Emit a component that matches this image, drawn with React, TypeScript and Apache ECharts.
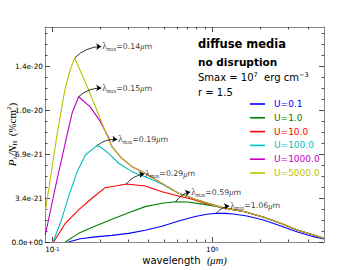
import React, { useEffect, useRef } from 'react';
import * as echarts from 'echarts';

// ---- data (values in units of 1e-21 %cm^2) ----
const seriesNames = ['U=0.1', 'U=1.0', 'U=10.0', 'U=100.0', 'U=1000.0', 'U=5000.0'];
const seriesColors = ['#0000ff', '#008000', '#ff0000', '#00bfbf', '#bf00bf', '#bfbf00'];

const u01: [number, number][] = [
  [0.126, 0], [0.15, 0.25], [0.186, 0.4], [0.236, 0.52], [0.3, 0.68], [0.381, 0.92], [0.485, 1.24],
  [0.616, 1.65], [0.783, 2.0], [0.927, 2.18], [1.06, 2.26], [1.2, 2.25], [1.36, 2.2], [1.65, 2.05],
  [2.09, 1.73], [2.66, 1.28], [3.38, 0.81], [4.3, 0.42], [5.0, 0.24],
];
const u1: [number, number][] = [
  [0.1206, 0], [0.146, 0.68], [0.186, 1.26], [0.236, 1.78], [0.3, 2.3], [0.381, 2.78], [0.485, 3.04],
  [0.59, 3.16], [0.7, 3.14], [0.85, 3.0], [1.0, 2.85], [1.2, 2.66], [1.6, 2.38], [2.1, 1.95],
  [2.7, 1.45], [3.4, 0.95], [4.3, 0.55], [5.0, 0.29],
];
const u10: [number, number][] = [
  [0.102, 0], [0.1206, 1.47], [0.146, 2.52], [0.177, 3.44], [0.214, 4.27], [0.248, 4.4], [0.29, 4.56],
  [0.381, 4.4], [0.485, 3.95], [0.616, 3.62], [0.747, 3.36], [0.9, 3.05], [1.0, 2.92], [1.2, 2.66],
  [1.6, 2.38], [2.1, 1.95], [2.7, 1.45], [3.4, 0.95], [4.3, 0.55], [5.0, 0.29],
];
const u100: [number, number][] = [
  [0.101, 0], [0.1122, 1.47], [0.1264, 3.56], [0.1429, 5.53], [0.161, 6.84], [0.19, 7.57], [0.199, 7.49],
  [0.225, 6.97], [0.26, 6.19], [0.315, 5.53], [0.381, 5.13], [0.485, 4.55], [0.616, 3.83], [0.783, 3.36],
  [1.0, 2.94], [1.2, 2.66], [1.6, 2.38], [2.1, 1.95], [2.7, 1.45], [3.4, 0.95], [4.3, 0.55], [5.0, 0.29],
];
const u1000: [number, number][] = [
  [0.0904, 0.55], [0.106, 4.67], [0.1236, 8.41], [0.1327, 10.1], [0.146, 11.42], [0.173, 10.6],
  [0.199, 9.5], [0.224, 8.25], [0.236, 7.49], [0.272, 6.58], [0.315, 5.92], [0.381, 5.4], [0.485, 4.61],
  [0.616, 3.83], [0.783, 3.36], [1.0, 2.94], [1.2, 2.66], [1.6, 2.38], [2.1, 1.95], [2.7, 1.45],
  [3.4, 0.95], [4.3, 0.55], [5.0, 0.29],
];
const u5000: [number, number][] = [
  [0.0904, 2.38], [0.107, 8.41], [0.12, 12.0], [0.129, 13.5], [0.138, 14.47], [0.165, 12.24],
  [0.19, 10.34], [0.218, 8.49], [0.236, 7.49], [0.272, 6.58], [0.315, 5.92], [0.381, 5.4], [0.485, 4.61],
  [0.616, 3.83], [0.783, 3.36], [1.0, 2.94], [1.2, 2.66], [1.6, 2.38], [2.1, 1.95], [2.7, 1.45],
  [3.4, 0.95], [4.3, 0.55], [5.0, 0.29],
];
const curveData = [u01, u1, u10, u100, u1000, u5000];

// annotations: peak (lambda_max, value) and text anchor (data coords)
const annotLambda = ['0.14', '0.15', '0.19', '0.29', '0.59', '1.06'];
const annotPeaks: [number, number][] = [
  [0.138, 14.47], [0.146, 11.42], [0.19, 7.57], [0.29, 4.56], [0.59, 3.16], [1.06, 2.26],
];
const annotText: [number, number][] = [
  [0.2023, 15.37], [0.2023, 12.1], [0.2548, 8.06], [0.376, 5.35], [0.729, 3.93], [1.277, 2.83],
];

// ticks
const yTickValues = [0, 3.45, 6.9, 10.35, 13.8];
const yTickLabels = ['0.0e+00', '3.4e-21', '6.9e-21', '1.0e-20', '1.4e-20'];
const xMajorTicks = [0.1, 1];
const xMajorLabels = ['10{sup|-1}', '10{sup|0}'];
const xMinorTicks = [0.2, 0.3, 0.4, 0.5, 0.6, 0.7, 0.8, 0.9, 2, 3, 4];

const X_MIN = 0.09;
const X_MAX = 5;
const Y_MIN = 0;
const Y_MAX = 16.9;

const yMinorTicks: number[] = [];
for (let k = 1; k * 0.8625 < Y_MAX; k++) {
  if (k % 4 !== 0) yMinorTicks.push(k * 0.8625);
}

const SANS = '"DejaVu Sans", sans-serif';
const SERIF = '"Liberation Serif", "DejaVu Serif", serif';
const FRAME = '#858585';
const TICK = '#222';

function xAxisDef(position: string, ticks: number[], len: number, showLine: boolean, labels: boolean): any {
  return {
    type: 'log',
    logBase: 10,
    min: X_MIN,
    max: X_MAX,
    position,
    offset: 0,
    axisLine: { show: showLine, onZero: false, lineStyle: { color: FRAME, width: 1 } },
    axisTick: { show: true, inside: true, length: len, customValues: ticks, lineStyle: { color: TICK, width: 0.8 } },
    minorTick: { show: false },
    splitLine: { show: false },
    axisLabel: labels
      ? {
          show: true,
          customValues: xMajorTicks,
          margin: 4,
          color: '#000',
          fontFamily: SANS,
          fontSize: 7.3,
          formatter: (v: number) => {
            let best = 0;
            xMajorTicks.forEach((t, i) => {
              if (Math.abs(Math.log10(t) - Math.log10(v)) < Math.abs(Math.log10(xMajorTicks[best]) - Math.log10(v))) best = i;
            });
            return xMajorLabels[best];
          },
          rich: {
            sup: { fontSize: 5, verticalAlign: 'top', fontFamily: SANS, color: '#000' },
          },
        }
      : { show: false },
  };
}

function yAxisDef(position: string, ticks: number[], len: number, showLine: boolean, labels: boolean): any {
  return {
    type: 'value',
    min: Y_MIN,
    max: Y_MAX,
    position,
    offset: 0,
    axisLine: { show: showLine, onZero: false, lineStyle: { color: FRAME, width: 1 } },
    axisTick: { show: true, inside: true, length: len, customValues: ticks, lineStyle: { color: TICK, width: 0.8 } },
    minorTick: { show: false },
    splitLine: { show: false },
    axisLabel: labels
      ? {
          show: true,
          customValues: yTickValues,
          margin: 2,
          color: '#000',
          fontFamily: SANS,
          fontSize: 7.3,
          formatter: (v: number) => {
            let best = 0;
            yTickValues.forEach((t, i) => {
              if (Math.abs(t - v) < Math.abs(yTickValues[best] - v)) best = i;
            });
            return yTickLabels[best];
          },
        }
      : { show: false },
  };
}

export default function App() {
  const ref = useRef<HTMLDivElement>(null);

  useEffect(() => {
    document.body.style.margin = '0';
    if (!ref.current) return;
    const chart = echarts.init(ref.current, null, { renderer: 'svg' });

    const xMain = xAxisDef('bottom', xMajorTicks, 5, true, true);
    xMain.name = '{t|wavelength}{g|  }{m|(μm)}';
    xMain.nameLocation = 'middle';
    xMain.nameGap = 13;
    xMain.nameMoveOverlap = false;
    xMain.nameTextStyle = {
      rich: {
        t: { fontFamily: SANS, fontSize: 10, color: '#000' },
        g: { fontFamily: SANS, fontSize: 10 },
        m: { fontFamily: SERIF, fontStyle: 'italic', fontSize: 10.5, color: '#000' },
      },
    };

    const yMain = yAxisDef('left', yTickValues, 5, true, true);

    const option: any = {
      animation: false,
      backgroundColor: '#fff',
      grid: { left: 45, right: 36, top: 27, bottom: 28, containLabel: false, outerBoundsMode: 'none' },
      xAxis: [
        xMain,
        xAxisDef('bottom', xMinorTicks, 2.5, false, false),
        xAxisDef('top', xMajorTicks, 5, true, false),
        xAxisDef('top', xMinorTicks, 2.5, false, false),
      ],
      yAxis: [
        yMain,
        yAxisDef('left', yMinorTicks, 2.5, false, false),
        yAxisDef('right', yTickValues, 5, true, false),
        yAxisDef('right', yMinorTicks, 2.5, false, false),
      ],
      legend: {
        orient: 'vertical',
        left: 245,
        top: 94,
        icon: 'rect',
        itemWidth: 15,
        itemHeight: 1.6,
        itemGap: 3.8,
        data: seriesNames.map((n, i) => ({ name: n, textStyle: { color: seriesColors[i] } })),
        textStyle: { fontFamily: SANS, fontSize: 9, lineHeight: 10, padding: [0, 0, 0, 4] },
      },
      graphic: [
        {
          type: 'text',
          x: 12,
          y: 134.5,
          rotation: Math.PI / 2,
          style: {
            text: '{i|P}{s|λ}{i|/N}{s|H}{g|  }{r|(%cm}{u|2}{r|)}',
            align: 'center',
            verticalAlign: 'middle',
            rich: {
              i: { fontFamily: SERIF, fontStyle: 'italic', fontSize: 11, fill: '#000', lineHeight: 13 },
              s: { fontFamily: SERIF, fontSize: 7, fill: '#000', verticalAlign: 'bottom', lineHeight: 13 },
              g: { fontSize: 8, lineHeight: 13 },
              r: { fontFamily: SERIF, fontSize: 11, fill: '#000', lineHeight: 13 },
              u: { fontFamily: SERIF, fontSize: 7, fill: '#000', verticalAlign: 'top', lineHeight: 13 },
            },
          },
        },
        { type: 'text', x: 198, y: 44, style: { text: 'diffuse media', font: `bold 11.5px ${SANS}`, fill: '#000', verticalAlign: 'middle' } },
        { type: 'text', x: 198, y: 61.7, style: { text: 'no disruption', font: `bold 10.5px ${SANS}`, fill: '#000', verticalAlign: 'middle' } },
        {
          type: 'text', x: 198, y: 77.5,
          style: {
            text: '{a|Smax = 10}{b|7}{a|  erg cm}{b|−3}',
            verticalAlign: 'middle',
            rich: {
              a: { fontFamily: SANS, fontSize: 10, fill: '#000', lineHeight: 12 },
              b: { fontFamily: SANS, fontSize: 6.5, fill: '#000', verticalAlign: 'top', lineHeight: 12 },
            },
          },
        },
        { type: 'text', x: 198, y: 92.7, style: { text: 'r = 1.5', font: `10px ${SANS}`, fill: '#000', verticalAlign: 'middle' } },
      ],
      series: [
        ...curveData.map((d, i) => ({
          name: seriesNames[i],
          type: 'line',
          data: d,
          xAxisIndex: 0,
          yAxisIndex: 0,
          showSymbol: false,
          symbol: 'none',
          lineStyle: { color: seriesColors[i], width: 1.1 },
          itemStyle: { color: seriesColors[i] },
          z: 2 + i,
        })),
        {
          type: 'lines',
          coordinateSystem: 'cartesian2d',
          xAxisIndex: 0,
          yAxisIndex: 0,
          symbol: ['none', 'arrow'],
          symbolSize: 5,
          silent: true,
          z: 20,
          lineStyle: { color: '#000', width: 0.8, curveness: 0.2, opacity: 1 },
          data: annotPeaks.map((p, i) => ({ coords: [p, annotText[i]] })),
        },
        {
          type: 'scatter',
          xAxisIndex: 0,
          yAxisIndex: 0,
          symbolSize: 0,
          silent: true,
          z: 21,
          data: annotText.map((p, i) => ({
            value: p,
            label: { formatter: `{l|λ}{s|max}{n|=${annotLambda[i]}}{m|μ}{n|m}` },
          })),
          label: {
            show: true,
            position: 'right',
            distance: 1,
            rich: {
              l: { fontFamily: SERIF, fontSize: 9.5, color: '#000', lineHeight: 11 },
              s: { fontFamily: SERIF, fontSize: 5.5, color: '#000', verticalAlign: 'bottom', lineHeight: 11 },
              n: { fontFamily: SANS, fontSize: 7.8, color: '#000', lineHeight: 11 },
              m: { fontFamily: SERIF, fontStyle: 'italic', fontSize: 8.5, color: '#000', lineHeight: 11 },
            },
          },
        },
      ],
    };

    chart.setOption(option);
    return () => chart.dispose();
  }, []);

  return <div ref={ref} style={{ position: 'absolute', left: 0, top: 0, width: 360, height: 270 }} />;
}
